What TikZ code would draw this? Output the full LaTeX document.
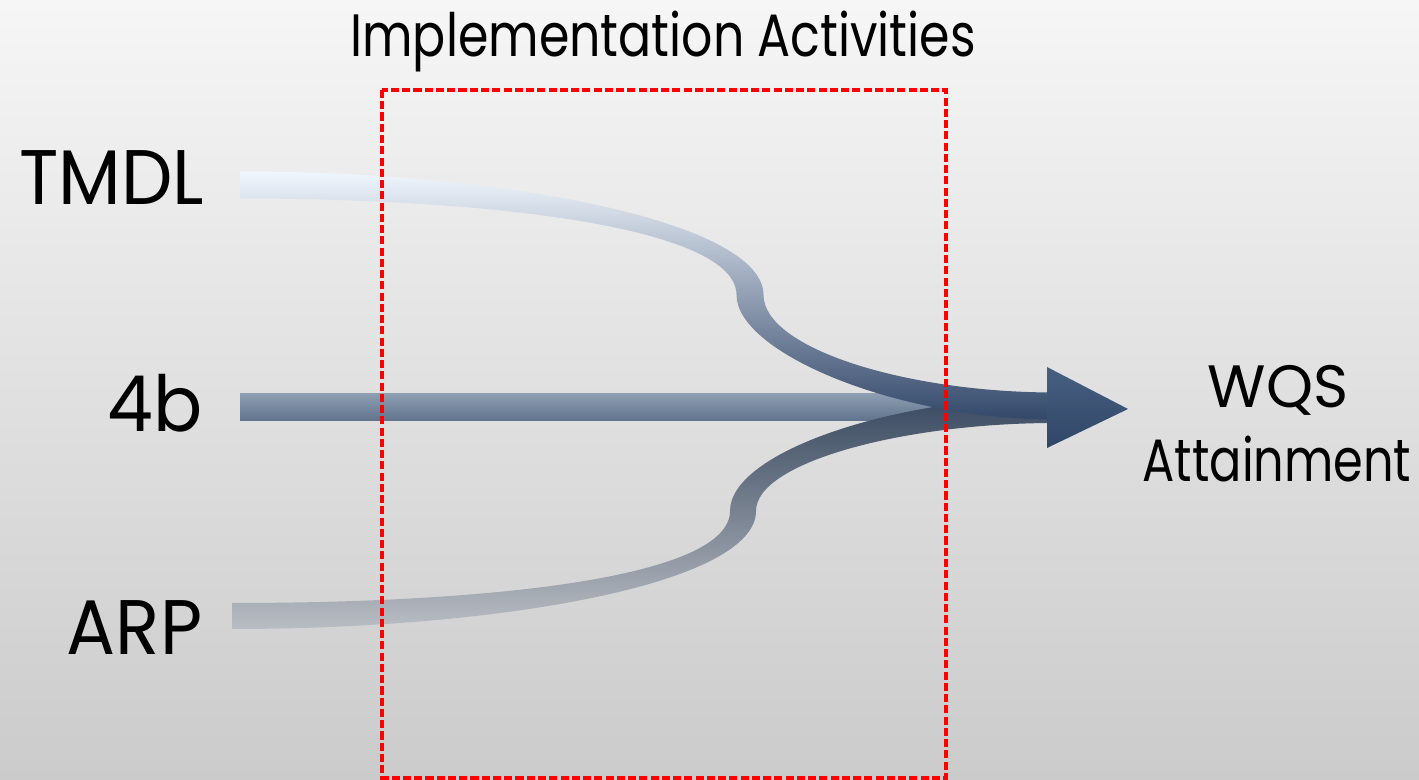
\documentclass[tikz,border=0pt]{standalone}
\usepackage{fontspec}
\setmainfont{Poppins}[FakeStretch=0.8]
\newfontfamily\titlefont{Poppins}[FakeStretch=0.82]
\newfontfamily\bigfont{Poppins}[FakeStretch=0.94]
\newfontfamily\wqsfont{Poppins}
\definecolor{bgtop}{HTML}{F6F6F6}
\definecolor{bgbot}{HTML}{CBCBCB}
\definecolor{tmdlA}{HTML}{F0F6FD}
\definecolor{tmdlB}{HTML}{33486A}
\definecolor{arpA}{HTML}{B9BDC3}
\definecolor{arpB}{HTML}{394960}
\definecolor{fbA}{HTML}{8D9EB2}
\definecolor{fbB}{HTML}{60738C}
\definecolor{headA}{HTML}{475F80}
\definecolor{headB}{HTML}{304668}
\begin{document}
\begin{tikzpicture}[x=0.01cm,y=-0.01cm,
  lbl/.style={inner sep=0pt, font=\bigfont\fontsize{22}{26}\selectfont},
  sublbl/.style={inner sep=0pt, font=\fontsize{17}{20}\selectfont},
  boxline/.style={draw=red, line width=0.9pt, dash pattern=on 2.3pt off 0.9pt}]
\useasboundingbox (0,0) rectangle (1419,780);
\shade[top color=bgtop, bottom color=bgbot] (0,0) rectangle (1419,780);
% title
\node[sublbl, font=\titlefont\fontsize{17}{20}\selectfont, anchor=base] (title) at (663,57) {Implementation Activities};
% labels
\node[lbl, anchor=base east] (tmdl) at (205,205) {TMDL};
\node[lbl, anchor=base east] (fb) at (203,432) {4b};
\node[lbl, anchor=base east] (arp) at (203,655) {ARP};
\node[sublbl, font=\wqsfont\fontsize{17}{20}\selectfont, anchor=base] (wqs) at (1278,408) {WQS};
\node[sublbl, anchor=base] (attain) at (1277,482) {Attainment};
% 4b band
\shade[top color=fbA, bottom color=fbB] (240,394) rectangle (1000,421);
% ARP band
\shade[top color=arpB, bottom color=arpA]
  (232,603) .. controls (495,603) and (730,577) .. (730,511)
  .. controls (730,452) and (895,397) .. (1055,397) -- (1055,423)
  .. controls (905,423) and (756,462) .. (756,511)
  .. controls (756,583) and (505,629) .. (232,629) -- cycle;
% TMDL band
\shade[top color=tmdlA, bottom color=tmdlB]
  (240,171.5) .. controls (505,171.5) and (763.5,222) .. (763.5,295)
  .. controls (763.5,348) and (905,392.5) .. (1055,392.5) -- (1055,419.5)
  .. controls (895,419.5) and (736.5,352) .. (736.5,295)
  .. controls (736.5,228) and (495,198.5) .. (240,198.5) -- cycle;
% arrow head
\coordinate (h1) at (1047,367);
\coordinate (h2) at (1128,409);
\coordinate (h3) at (1047,448);
\shade[top color=headA, bottom color=headB] (h1) -- (h2) -- (h3) -- cycle;
% dashed box
\draw[boxline] (382,90) rectangle (946,778);
\end{tikzpicture}
\end{document}
